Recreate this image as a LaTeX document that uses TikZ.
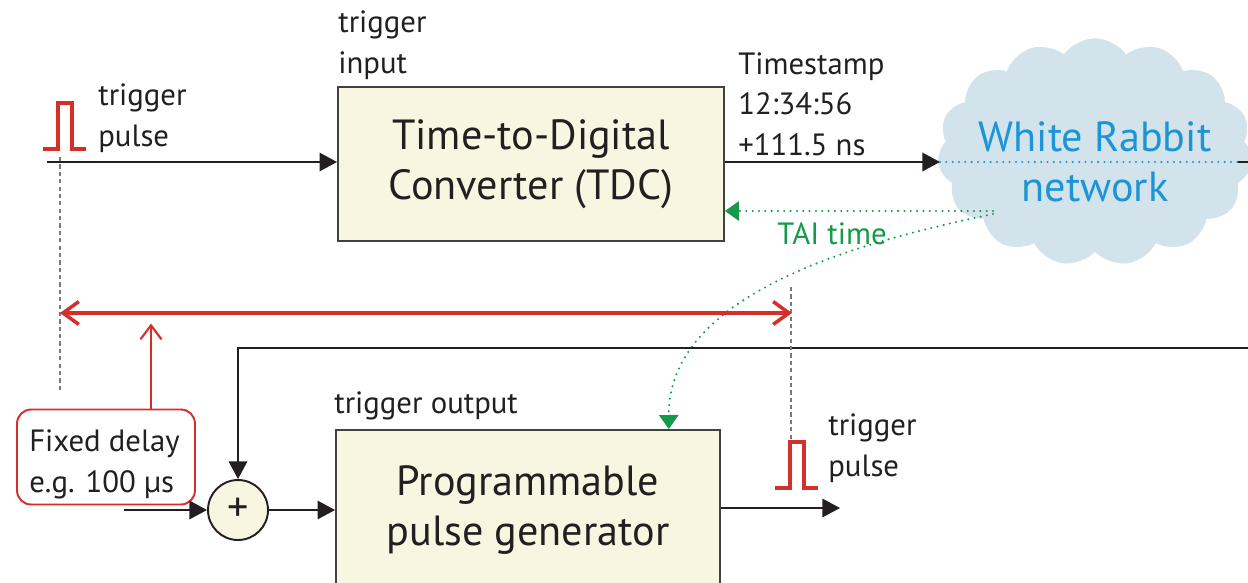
\documentclass[tikz,border=0pt]{standalone}
\usepackage{fontspec}
\setmainfont{PT Sans}
\usetikzlibrary{arrows.meta,positioning,calc,shapes.symbols}
\definecolor{ink}{HTML}{231F20}
\definecolor{boxcream}{HTML}{F8F5E1}
\definecolor{cloudblue}{HTML}{D3E3EC}
\definecolor{wrblue}{HTML}{1C95D4}
\definecolor{pulsered}{HTML}{D62E2A}
\definecolor{taigreen}{HTML}{15994A}
\definecolor{guidegray}{HTML}{7A7A7A}
\tikzset{
  blk/.style={draw=ink!85, fill=boxcream, line width=1.1pt, align=center,
    font=\fontsize{24}{28.5}\selectfont, text=ink, inner sep=0pt},
  lbl/.style={font=\fontsize{17.5}{22.8}\selectfont, text=ink, align=left, inner sep=0pt},
  sumnode/.style={circle, draw=ink, fill=boxcream, line width=1.1pt, minimum size=1.2cm,
    inner sep=0pt, font=\fontsize{24}{24}\selectfont, text=ink},
  delaybox/.style={draw=pulsered, fill=white, rounded corners=8pt, line width=1.1pt,
    minimum width=3.56cm, minimum height=1.9cm},
  flow/.style={-{Triangle[length=10pt, width=10.5pt]}, line width=1pt, color=ink},
  taiflow/.style={-{Triangle[length=8pt, width=11pt]}, color=taigreen, line width=1.3pt,
    line cap=round, dash pattern=on 0pt off 3.6pt},
  netdot/.style={color=wrblue, line width=1.3pt, line cap=round, dash pattern=on 0pt off 3.6pt},
  guide/.style={color=guidegray, line width=0.9pt, dash pattern=on 2.4pt off 1.8pt},
  span/.style={{Straight Barb[length=9pt, width=13pt]}-{Straight Barb[length=9pt, width=13pt]},
    color=pulsered, line width=2pt},
  delayflow/.style={-{Straight Barb[length=8pt, width=12pt]}, color=pulsered, line width=1.2pt},
  pulseline/.style={color=pulsered, line width=2pt},
}
\begin{document}
\begin{tikzpicture}[x=0.02cm,y=-0.02cm]
  \useasboundingbox (0,0) rectangle (1248,582);
  \clip (0,0) rectangle (1248,582);

  % blocks
  \node[blk, minimum width=7.72cm, minimum height=3.08cm] (tdc) at (531,164)
    {Time-to-Digital\\Converter (TDC)};
  \node[blk, minimum width=7.68cm, minimum height=3.2cm] (ppg) at (528,510)
    {Programmable\\pulse generator};
  \node[cloud, cloud puffs=15, cloud puff arc=110, aspect=1.4, fill=cloudblue, draw=none,
    minimum width=6.3cm, minimum height=4.55cm] (wr) at (1095,152) {};
  \node[lbl, font=\fontsize{24}{28.5}\selectfont, text=wrblue, align=center] (wrlabel)
    at (1095,162) {White Rabbit\\network};
  \node[sumnode] (sum) at (238,510) {+};
  \node[delaybox] (delay) at (106,457) {};
  \node[lbl, anchor=base west] (delaytxt) at (29,492) {Fixed delay\\e.g. 100 µs};

  % labels
  \node[lbl, anchor=base west] (tinlbl) at (338,73) {trigger\\input};
  \node[lbl, anchor=base west] (tslbl) at (738,155) {Timestamp\\12:34:56\\+111.5 ns};
  \node[lbl, anchor=base west] (pinlbl) at (98,146) {trigger\\pulse};
  \node[lbl, anchor=base west] (toutlbl) at (334,413) {trigger output};
  \node[lbl, anchor=base west] (poutlbl) at (828,476) {trigger\\pulse};
  \node[lbl, text=taigreen, anchor=base] (tailbl) at (832,244) {TAI time};

  % end points
  \coordinate (tin) at (47,162);
  \coordinate (wrin) at (940,162);
  \coordinate (wrout) at (1238,162);
  \coordinate (edgeR) at (1248,162);
  \coordinate (taisrc) at (993,211);
  \coordinate (taisrcb) at (993,214);
  \coordinate (fbR) at (1248,348);
  \coordinate (sumin) at (124,510);
  \coordinate (outend) at (840,508);
  \coordinate (spanL) at (60,313);
  \coordinate (spanR) at (792,313);

  % signal path
  \draw[flow] (tin) -- (tdc.west |- tin);
  \draw[flow] (tdc.east |- wrin) -- (wrin);
  \draw[netdot] (wrin) -- (wrout);
  \draw[line width=1pt, color=ink] (wrout) -- (edgeR);
  \draw[taiflow] (taisrc) -- (tdc.east |- taisrc);
  \draw[taiflow] (taisrcb) .. controls (870,240) and (668,290) .. ($(ppg.north west)!0.865!(ppg.north east)$);
  \draw[flow] (fbR) -| (sum.north);
  \draw[flow] (sumin) -- (sum.west);
  \draw[flow] (sum.east) -- (ppg.west |- sum.east);
  \draw[flow] (ppg.east |- outend) -- (outend);

  % delay marks
  \draw[guide] (60,157) -- (60,390);
  \draw[guide] (791,287) -- (791,440);
  \draw[span] (spanL) -- (spanR);
  \draw[delayflow] ($(delay.north west)!0.75!(delay.north east)$) -- ++(0,-85);

  % pulses
  \foreach \px/\py in {43/149, 775/488} {
    \draw[pulseline] (\px,\py) -- ++(15,0) -- ++(0,-46) -- ++(14,0) -- ++(0,46) -- ++(14,0);
  }
\end{tikzpicture}
\end{document}
